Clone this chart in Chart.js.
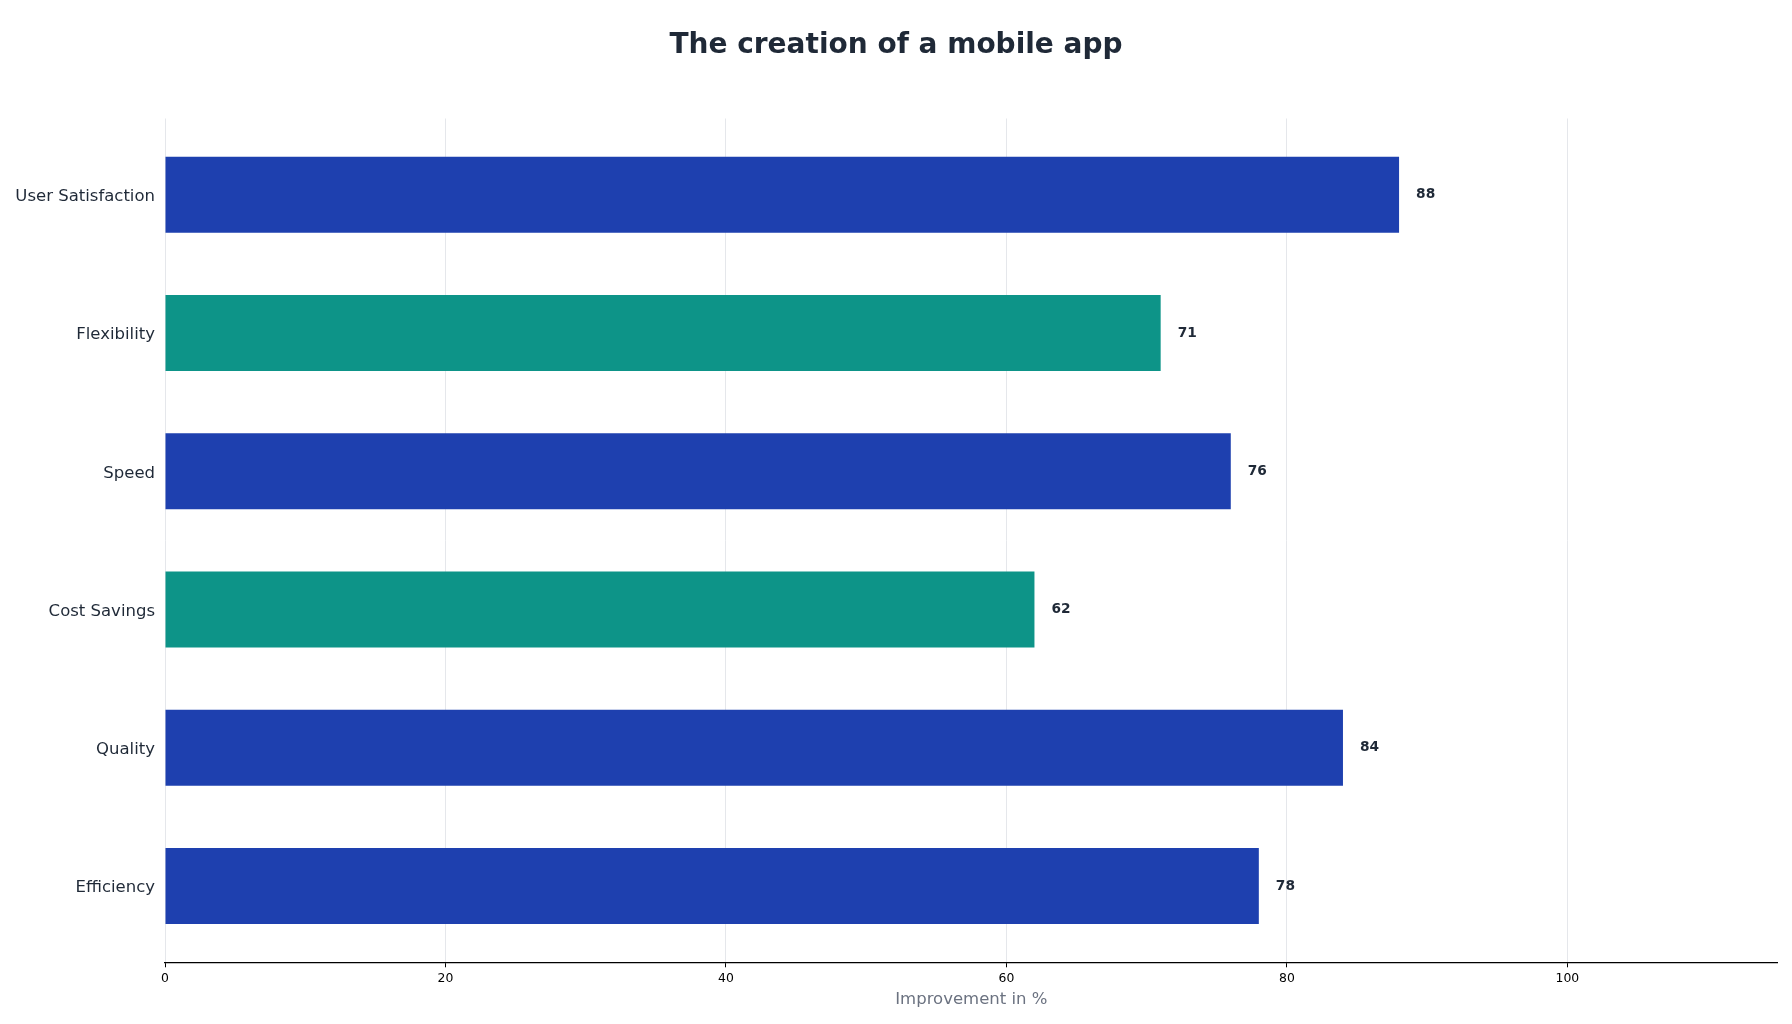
<!DOCTYPE html>
<html>
<head>
<meta charset="utf-8">
<title>The creation of a mobile app</title>
<script src="https://cdn.jsdelivr.net/npm/chart.js@4.4.1/dist/chart.umd.min.js"></script>
<style>
  html, body { margin: 0; padding: 0; background: #fff; }
  #wrap { width: 1792px; height: 1024px; }
</style>
</head>
<body>
<div id="wrap"><canvas id="chart" width="1792" height="1024"></canvas></div>
<script>
// Data, top to bottom as in the picture
const categories = ['User Satisfaction', 'Flexibility', 'Speed', 'Cost Savings', 'Quality', 'Efficiency'];
const improvement = [88, 71, 76, 62, 84, 78];
const xTicks = [0, 20, 40, 60, 80, 100];

const BLUE = '#1e40af';
const TEAL = '#0d9488';
const barColors = [BLUE, TEAL, BLUE, TEAL, BLUE, BLUE];
const TEXT = '#1f2937';

Chart.defaults.font.family = "'DejaVu Sans', sans-serif";

// value labels at the end of each bar
const valueLabels = {
    id: 'valueLabels',
    afterDatasetsDraw(chart) {
        const ctx = chart.ctx;
        const meta = chart.getDatasetMeta(0);
        ctx.save();
        ctx.font = "bold 13.75px 'DejaVu Sans', sans-serif";
        ctx.fillStyle = TEXT;
        ctx.textAlign = 'left';
        ctx.textBaseline = 'middle';
        meta.data.forEach((bar, i) => {
            ctx.fillText(String(improvement[i]), bar.x + 17, bar.y);
        });
        ctx.restore();
    }
};

const chart = new Chart(document.getElementById('chart'), {
    type: 'bar',
    data: {
        datasets: [{
            data: improvement.map((v, i) => ({ x: v, y: i })),
            backgroundColor: barColors,
            borderWidth: 0,
            categoryPercentage: 0.55,
            barPercentage: 1.0
        }]
    },
    plugins: [valueLabels],
    options: {
        indexAxis: 'y',
        responsive: false,
        animation: false,
        devicePixelRatio: 1,
        // equal side padding keeps the title centred on the page
        layout: { padding: { left: 14.3, right: 14.3, top: 0, bottom: 0 } },
        plugins: {
            legend: { display: false },
            tooltip: { enabled: false },
            title: {
                display: true,
                text: 'The creation of a mobile app',
                color: TEXT,
                font: { size: 28, weight: 'bold' },
                padding: { top: 29, bottom: 55.9 }
            }
        },
        scales: {
            x: {
                type: 'linear',
                min: 0,
                max: 115,
                afterFit: s => { s.height = 61.7; },
                afterBuildTicks: s => { s.ticks = xTicks.map(v => ({ value: v })); },
                grid: { color: '#e5e7eb', lineWidth: 1, tickColor: '#000', tickLength: 5 },
                border: { display: true, color: '#000', width: 1.2 },
                ticks: { color: '#000', font: { size: 12.4 }, padding: 4, maxRotation: 0 },
                title: {
                    display: true,
                    text: 'Improvement in %',
                    color: '#6b7280',
                    font: { size: 16.5 },
                    padding: { top: 0, bottom: 14.8 }
                }
            },
            y: {
                type: 'linear',
                reverse: true,
                offset: false,
                min: -0.5525,
                max: 5.5525,
                afterFit: s => { s.width = 150.7; },
                afterBuildTicks: s => { s.ticks = categories.map((c, i) => ({ value: i })); },
                grid: { display: false, drawTicks: false, offset: false },
                border: { display: false },
                ticks: {
                    color: TEXT,
                    font: { size: 16.5 },
                    padding: 10,
                    labelOffset: 2,
                    callback: v => categories[v]
                }
            }
        }
    }
});
</script>
</body>
</html>
